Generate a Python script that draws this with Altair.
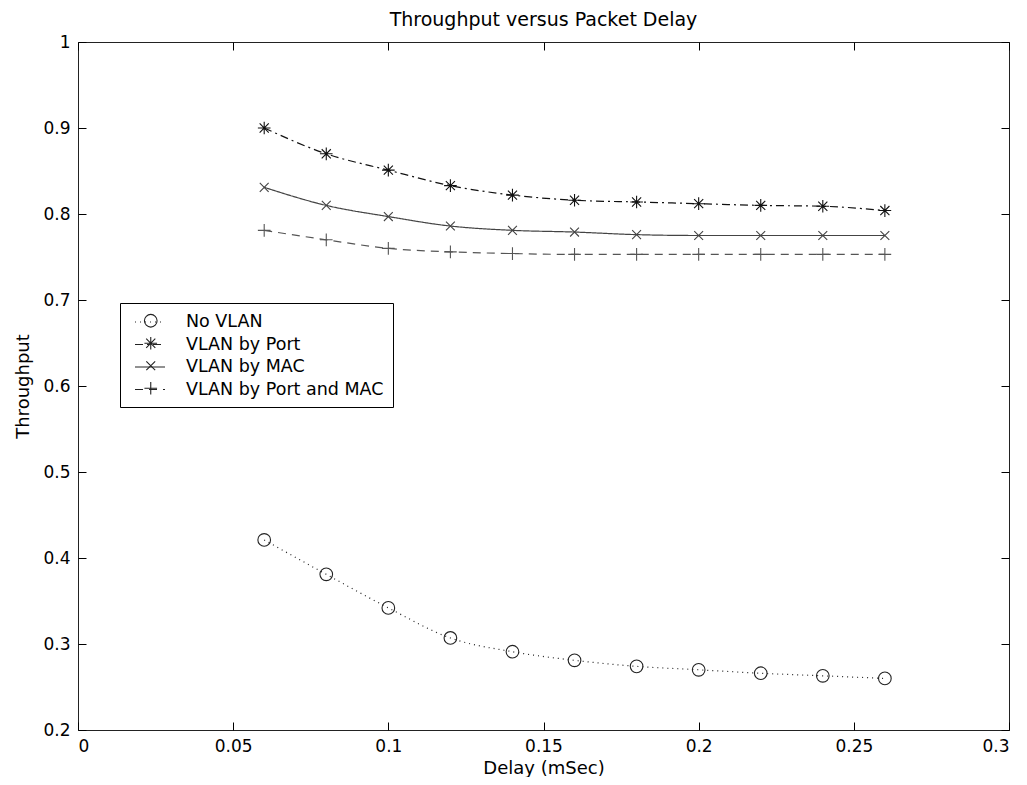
import altair as alt
import pandas as pd

# ---- data ----
delay = [0.06, 0.08, 0.10, 0.12, 0.14, 0.16, 0.18, 0.20, 0.22, 0.24, 0.26]
no_vlan = [0.421, 0.381, 0.342, 0.307, 0.291, 0.281, 0.274, 0.270, 0.266, 0.263, 0.260]
vlan_port = [0.900, 0.870, 0.851, 0.833, 0.822, 0.816, 0.814, 0.812, 0.810, 0.809, 0.804]
vlan_mac = [0.831, 0.810, 0.797, 0.786, 0.781, 0.779, 0.776, 0.775, 0.775, 0.775, 0.775]
vlan_port_mac = [0.781, 0.770, 0.760, 0.756, 0.754, 0.753, 0.753, 0.753, 0.753, 0.753, 0.753]

series_names = ["No VLAN", "VLAN by Port", "VLAN by MAC", "VLAN by Port and MAC"]
x_ticks = [0, 0.05, 0.1, 0.15, 0.2, 0.25, 0.3]
y_ticks = [0.2, 0.3, 0.4, 0.5, 0.6, 0.7, 0.8, 0.9, 1.0]

rows = []
for name, vals in zip(series_names, [no_vlan, vlan_port, vlan_mac, vlan_port_mac]):
    for d, v in zip(delay, vals):
        rows.append({"Delay": d, "Throughput": v, "Series": name, "Series2": name})
df = pd.DataFrame(rows)

FONT = "DejaVu Sans"
dashes = [[1, 4], [8, 4, 2, 4], [1, 0], [8, 6]]
colors = ["#222222", "#111111", "#444444", "#555555"]
shapes = [
    "circle",
    "M-1,0L1,0M0,-1L0,1M-0.72,-0.72L0.72,0.72M-0.72,0.72L0.72,-0.72",
    "M-0.7,-0.7L0.7,0.7M-0.7,0.7L0.7,-0.7",
    "M-1,0L1,0M0,-1L0,1",
]

xscale = alt.Scale(domain=[0, 0.3], nice=False, zero=False)
yscale = alt.Scale(domain=[0.2, 1.0], nice=False, zero=False)
color_enc = alt.Color("Series:N", scale=alt.Scale(domain=series_names, range=colors), legend=None)

LX, LY = 42, 261
LEG_FS = 17.5

lines = alt.Chart(df).mark_line(interpolate="monotone", strokeWidth=1.2).encode(
    x=alt.X("Delay:Q", scale=xscale,
            axis=alt.Axis(orient="bottom", values=x_ticks, format="~g", offset=-8, tickSize=8,
                          domain=False, grid=False, labelPadding=8, title="Delay (mSec)",
                          titlePadding=5, tickColor="black",
                          labelFont=FONT, labelFontSize=17, labelColor="black",
                          titleFont=FONT, titleFontSize=18, titleFontWeight="normal",
                          titleColor="black")),
    y=alt.Y("Throughput:Q", scale=yscale,
            axis=alt.Axis(orient="left", values=y_ticks, format="~g", offset=-8, tickSize=8,
                          domain=False, grid=False, labelPadding=8, title="Throughput",
                          titlePadding=10, tickColor="black",
                          labelFont=FONT, labelFontSize=17, labelColor="black",
                          titleFont=FONT, titleFontSize=18, titleFontWeight="normal",
                          titleColor="black")),
    color=color_enc,
    strokeDash=alt.StrokeDash(
        "Series:N", scale=alt.Scale(domain=series_names, range=dashes),
        legend=alt.Legend(title=None, orient="none", legendX=LX, legendY=LY,
                          symbolType="M-1.667,0L1.667,0", symbolSize=324, symbolStrokeWidth=1.2,
                          symbolStrokeColor="#222222", symbolFillColor="transparent",
                          symbolOffset=11, labelOffset=26,
                          labelFont=FONT, labelFontSize=LEG_FS, labelColor="black", labelLimit=400,
                          padding=9, rowPadding=3.5, strokeColor="black")),
)

points = alt.Chart(df).mark_point(filled=False, size=160, strokeWidth=1.1, opacity=1).encode(
    x=alt.X("Delay:Q", scale=xscale,
            axis=alt.Axis(orient="top", values=x_ticks, offset=-8, tickSize=8, labels=False,
                          domain=False, grid=False, title=None, tickColor="black")),
    y=alt.Y("Throughput:Q", scale=yscale,
            axis=alt.Axis(orient="right", values=y_ticks, offset=-8, tickSize=8, labels=False,
                          domain=False, grid=False, title=None, tickColor="black")),
    color=color_enc,
    shape=alt.Shape(
        "Series2:N", scale=alt.Scale(domain=series_names, range=shapes),
        legend=alt.Legend(title=None, orient="none", legendX=LX, legendY=LY,
                          symbolSize=160, symbolStrokeWidth=1.1, symbolStrokeColor="#222222",
                          symbolFillColor="transparent", symbolOffset=13, labelOffset=4,
                          labelFont=FONT, labelFontSize=LEG_FS, labelOpacity=0, labelLimit=400,
                          labelExpr="''", padding=9, rowPadding=3.5)),
)

chart = alt.layer(lines, points).resolve_axis(
    x="independent", y="independent"
).resolve_legend(shape="independent", strokeDash="independent").properties(
    width=931, height=688,
    title=alt.TitleParams("Throughput versus Packet Delay", font=FONT, fontSize=19,
                          fontWeight="normal", color="black", anchor="middle", offset=3),
    autosize=alt.AutoSizeParams(type="none"),
    padding={"left": 70, "top": 34, "right": 10, "bottom": 47},
    background="white",
).configure_view(stroke="#222222", strokeWidth=1)

chart.save("out.html", embed_options={"renderer": "svg", "actions": False})
